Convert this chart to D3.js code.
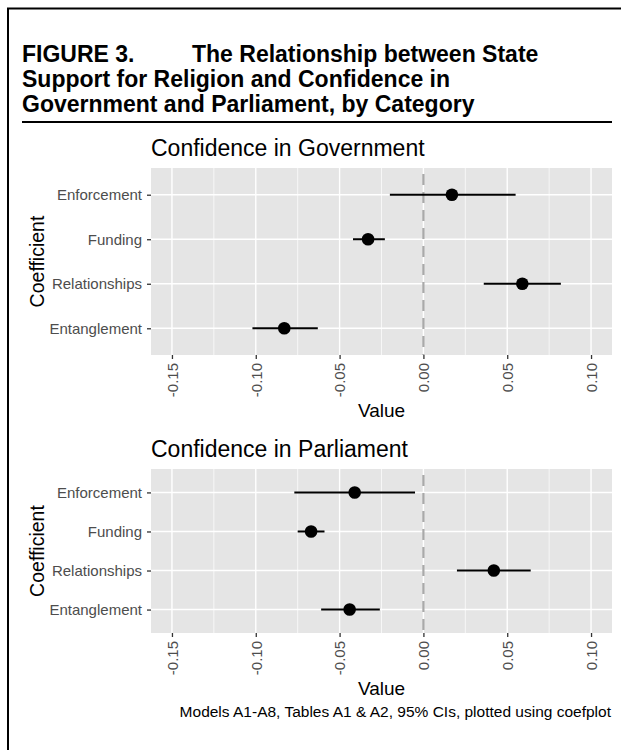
<!DOCTYPE html>
<html>
<head>
<meta charset="utf-8">
<script src="https://cdn.jsdelivr.net/npm/d3@7"></script>
<style>
  html, body { margin: 0; padding: 0; background: #fff; }
  svg { display: block; }
  text { font-family: "Liberation Sans", Arial, Helvetica, sans-serif; }
</style>
</head>
<body>
<svg id="fig" width="621" height="750"></svg>
<script>
// Coefficient names, top to bottom
const coefficients = ["Enforcement", "Funding", "Relationships", "Entanglement"];

// Confidence in Government: estimates with 95% CI bounds
const govEstimate = [0.017, -0.033, 0.059, -0.083];
const govLower    = [-0.020, -0.042, 0.036, -0.102];
const govUpper    = [0.055, -0.023, 0.082, -0.063];

// Confidence in Parliament: estimates with 95% CI bounds
const parlEstimate = [-0.041, -0.067, 0.042, -0.044];
const parlLower    = [-0.077, -0.075, 0.020, -0.061];
const parlUpper    = [-0.005, -0.059, 0.064, -0.026];

// Axis ticks
const xTicks = [-0.15, -0.10, -0.05, 0.00, 0.05, 0.10];
const xMinorTicks = [-0.125, -0.075, -0.025, 0.025, 0.075];
const xLimits = [-0.15, 0.10];

const figureLabel = "FIGURE 3.";
const titleLines = [
  "The Relationship between State",
  "Support for Religion and Confidence in",
  "Government and Parliament, by Category"
];
const caption = "Models A1-A8, Tables A1 & A2, 95% CIs, plotted using coefplot";

const svg = d3.select("#fig");

// Outer frame
svg.append("path")
  .attr("d", "M8,760 L8,8.5 L640,8.5")
  .attr("fill", "none").attr("stroke", "#000").attr("stroke-width", 2);

// Figure title
const titleG = svg.append("g").attr("font-size", 23).attr("font-weight", "bold").attr("fill", "#000");
titleG.append("text").attr("x", 22).attr("y", 62).text(figureLabel);
titleG.selectAll("text.line").data(titleLines).join("text")
  .attr("class", "line")
  .attr("x", (d, i) => i === 0 ? 192 : 22)
  .attr("y", (d, i) => 62 + i * 25)
  .text(d => d);

svg.append("line")
  .attr("x1", 22).attr("x2", 612).attr("y1", 122).attr("y2", 122)
  .attr("stroke", "#000").attr("stroke-width", 2);

// Shared x scale (limits with 5% expansion on each side)
const span = xLimits[1] - xLimits[0];
const x = d3.scaleLinear()
  .domain([xLimits[0] - 0.05 * span, xLimits[1] + 0.05 * span])
  .range([151, 612]);

const fmt = d => d.toFixed(2);   // plain hyphen for negatives

function drawPanel(title, est, lo, hi, top, bottom) {
  const g = svg.append("g");
  const y = d3.scalePoint().domain(coefficients).range([top, bottom]).padding(0.6);
  const [x0, x1] = x.range();

  // panel background
  g.append("rect").attr("x", x0).attr("y", top)
    .attr("width", x1 - x0).attr("height", bottom - top).attr("fill", "#e5e5e5");

  // minor grid
  g.selectAll(".minor").data(xMinorTicks).join("line")
    .attr("x1", d => x(d)).attr("x2", d => x(d)).attr("y1", top).attr("y2", bottom)
    .attr("stroke", "#fff").attr("stroke-width", 0.7);
  // major grid
  g.selectAll(".majorx").data(xTicks).join("line")
    .attr("x1", d => x(d)).attr("x2", d => x(d)).attr("y1", top).attr("y2", bottom)
    .attr("stroke", "#fff").attr("stroke-width", 1.4);
  g.selectAll(".majory").data(coefficients).join("line")
    .attr("x1", x0).attr("x2", x1).attr("y1", d => y(d)).attr("y2", d => y(d))
    .attr("stroke", "#fff").attr("stroke-width", 1.4);

  // zero reference line
  g.append("line")
    .attr("x1", x(0)).attr("x2", x(0)).attr("y1", top + 6).attr("y2", bottom)
    .attr("stroke", "#a9a9a9").attr("stroke-width", 2.2)
    .attr("stroke-dasharray", "11,7");

  // confidence intervals and estimates
  const rows = coefficients.map((c, i) => ({ c, est: est[i], lo: lo[i], hi: hi[i] }));
  g.selectAll(".ci").data(rows).join("line")
    .attr("x1", d => x(d.lo)).attr("x2", d => x(d.hi))
    .attr("y1", d => y(d.c)).attr("y2", d => y(d.c))
    .attr("stroke", "#000").attr("stroke-width", 2);
  g.selectAll(".pt").data(rows).join("circle")
    .attr("cx", d => x(d.est)).attr("cy", d => y(d.c)).attr("r", 6.3)
    .attr("fill", "#000");

  // y axis
  const yAxis = g.append("g").attr("transform", `translate(${x0},0)`)
    .call(d3.axisLeft(y).tickSize(4).tickPadding(5));
  yAxis.select(".domain").remove();
  yAxis.selectAll(".tick line").attr("stroke", "#333").attr("stroke-width", 1.3);
  yAxis.selectAll(".tick text").attr("fill", "#4d4d4d").attr("font-size", 15)
    .attr("font-family", "Liberation Sans, Arial, sans-serif");

  // x axis
  const xAxis = g.append("g").attr("transform", `translate(0,${bottom})`)
    .call(d3.axisBottom(x).tickValues(xTicks).tickFormat(fmt).tickSize(4).tickPadding(0));
  xAxis.select(".domain").remove();
  xAxis.selectAll(".tick line").attr("stroke", "#333").attr("stroke-width", 1.3);
  xAxis.selectAll(".tick text")
    .attr("fill", "#4d4d4d").attr("font-size", 15)
    .attr("font-family", "Liberation Sans, Arial, sans-serif")
    .attr("transform", "rotate(-90)")
    .attr("x", -8).attr("y", 0).attr("dy", "0.35em")
    .attr("text-anchor", "end");

  // axis titles
  g.append("text").attr("x", (x0 + x1) / 2).attr("y", bottom + 62)
    .attr("text-anchor", "middle").attr("font-size", 19).attr("fill", "#000")
    .text("Value");
  g.append("text")
    .attr("transform", `translate(44,${(top + bottom) / 2}) rotate(-90)`)
    .attr("text-anchor", "middle").attr("font-size", 19.5).attr("fill", "#000")
    .text("Coefficient");

  // panel title
  g.append("text").attr("x", x0).attr("y", top - 12)
    .attr("font-size", 23).attr("fill", "#000").text(title);
}

drawPanel("Confidence in Government", govEstimate, govLower, govUpper, 168, 355);
drawPanel("Confidence in Parliament", parlEstimate, parlLower, parlUpper, 469, 633);

svg.append("text").attr("x", 611).attr("y", 717)
  .attr("text-anchor", "end").attr("font-size", 15.5).attr("fill", "#000")
  .text(caption);
</script>
</body>
</html>
